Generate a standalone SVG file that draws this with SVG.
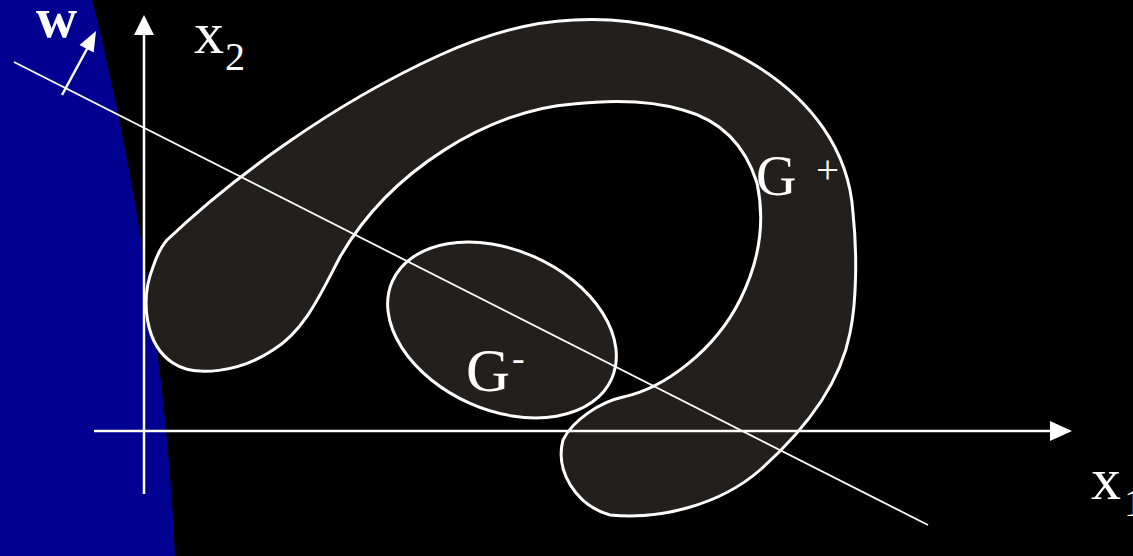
<svg xmlns="http://www.w3.org/2000/svg" width="1133" height="556" viewBox="0 0 1133 556">
  <defs>
    <style>
      .region { fill: #231f1c; stroke: #ffffff; stroke-width: 3; stroke-linejoin: round; }
      .axis { stroke: #ffffff; stroke-width: 2.5; fill: none; }
      .thin { stroke: #ffffff; stroke-width: 1.8; fill: none; }
      .head { fill: #ffffff; stroke: none; }
      text { font-family: 'Liberation Serif', 'Times New Roman', serif; fill: #ffffff; }
    </style>
  </defs>
  <rect x="0" y="0" width="1133" height="556" fill="#000000"/>
  <g id="halfspace">
    <path d="M0,0 L92,0 C120,110 165,330 175,556 L0,556 Z" fill="#000091"/>
  </g>
  <g id="g-plus">
    <path class="region" d="M167,240 C230,180 330,105 440,55 C482,36 525,22 573,20 C695,12 845,85 853,213 C857,250 857,300 850,333 C840,385 805,430 760,470 C720,505 660,520 610,515 C575,505 555,470 563,440 C573,420 600,402 623,397 C665,388 715,350 740,300 C760,260 765,220 757,183 C745,145 720,120 683,110 C650,100 610,100 573,104 C490,110 390,170 340,257 C320,295 305,330 273,350 C240,372 195,378 173,363 C145,345 140,300 153,267 C157,255 160,248 167,240 Z"/>
    <text x="756" y="195" font-size="56">G</text>
    <text x="816" y="183" font-size="41">+</text>
  </g>
  <g id="g-minus">
    <ellipse class="region" cx="502" cy="330" rx="120" ry="80" transform="rotate(24 502 330)"/>
    <text x="466" y="391" font-size="61">G</text>
    <text x="512" y="371" font-size="38">-</text>
  </g>
  <g id="connectors">
    <line class="thin" x1="14" y1="62" x2="928" y2="525"/>
    <line class="axis" x1="144" y1="494" x2="144" y2="33"/>
    <polygon class="head" points="144,15 134,35 154,35"/>
    <line class="axis" x1="94" y1="431" x2="1052" y2="431"/>
    <polygon class="head" points="1072,431 1050,421 1050,441"/>
    <line class="axis" x1="62" y1="95" x2="88" y2="47"/>
    <polygon class="head" points="96,31 93.7,52.4 79.5,45"/>
  </g>
  <g id="labels">
    <text x="36" y="37" font-size="57" font-weight="bold">w</text>
    <text x="194" y="53" font-size="60">x</text>
    <text x="225" y="70" font-size="40">2</text>
    <text x="1091" y="499" font-size="60">x</text>
    <text x="1124" y="516" font-size="40">1</text>
  </g>
</svg>
